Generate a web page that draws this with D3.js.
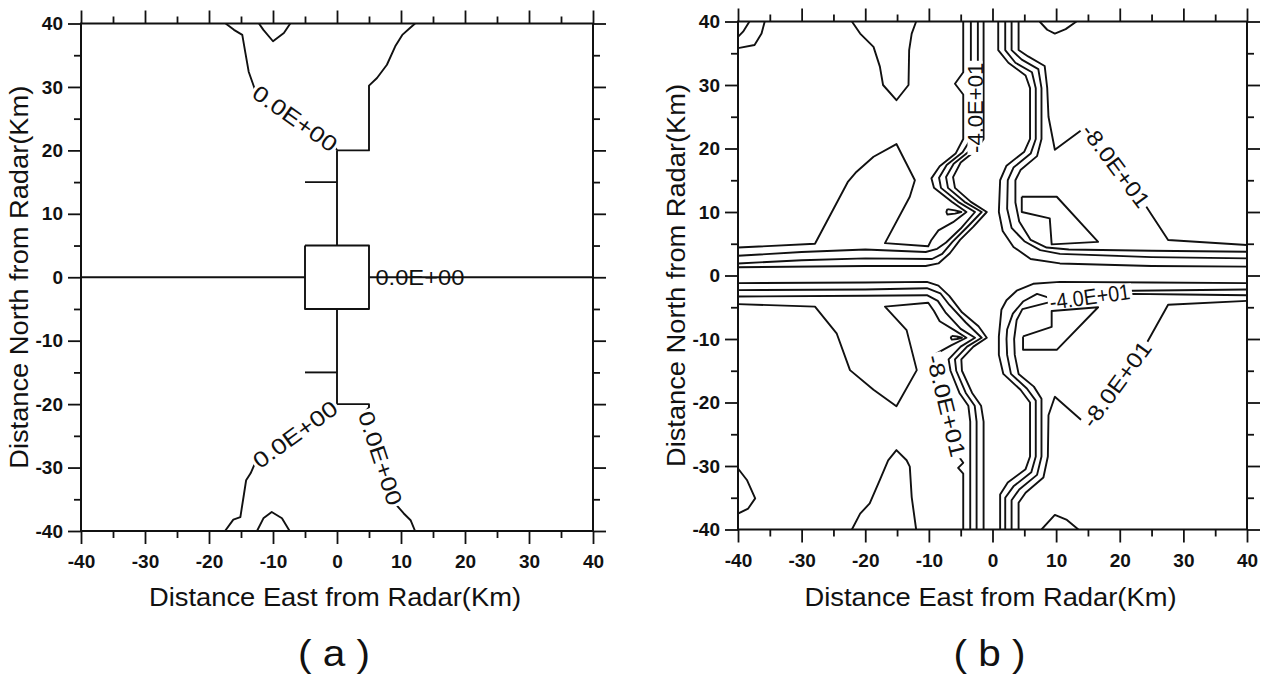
<!DOCTYPE html>
<html>
<head>
<meta charset="utf-8">
<script src="https://cdn.jsdelivr.net/npm/d3@7"></script>
<style>
  html, body { margin: 0; padding: 0; background: #fff; }
  svg { display: block; }
  text { font-family: "Liberation Sans", Arial, Helvetica, sans-serif; fill: #111; }
</style>
</head>
<body>
<svg id="chart" width="1271" height="678"></svg>
<script>
// ---- axis ticks (km) ----
const majorTicks = [-40, -30, -20, -10, 0, 10, 20, 30, 40];
const minorTicks = [-35, -25, -15, -5, 5, 15, 25, 35];

// ---- panel (a): contour polylines, [east km, north km] ----
const aUpperLeft   = [[-17.4,40],[-16.1,39],[-14.8,38.2],[-14.3,35.3],[-13.8,32.4],[-13,30.1],[-12.8,29.5],[-0.3,20.6],[0,20]];
const aUpperRight  = [[12.2,40],[11.4,39.3],[10.2,38.2],[9.1,36.4],[7.8,33.5],[6.25,31.4],[5,30.2],[5,20],[0,20]];
const aStemTop     = [[0,20],[0,5]];
const aStubTop     = [[-5,15],[0,15]];
const aBox         = [[-5,5],[5,5],[5,-5],[-5,-5],[-5,5]];
const aWest        = [[-40,0],[-5,0]];
const aEast        = [[5,0],[40,0]];
const aStemBottom  = [[0,-5],[0,-20]];
const aStubBottom  = [[-5,-15],[0,-15]];
const aLowerLeft   = [[0,-20],[-0.3,-20.2],[-12.8,-29.3],[-13.5,-30.9],[-14.2,-32],[-14.6,-34.6],[-15.1,-37.8],[-16.2,-38.2],[-17.5,-40]];
const aLowerRight  = [[0,-20],[5,-20],[5,-20.5],[4.4,-21.2],[9.2,-35.8],[10.4,-37.2],[11.5,-38.3],[12.2,-40]];
const aTopBump     = [[-12.2,40],[-11.5,39],[-10,37.2],[-8.3,38.5],[-7.3,40]];
const aBottomBump  = [[-12.5,-40],[-11.5,-38],[-10.2,-37],[-8.6,-38],[-7.4,-40]];

const aLabels = [
  { text: "0.0E+00", from: [-12.8, 29.5], to: [-0.3, 20.6], mask: true },
  { text: "0.0E+00", from: [6.0, 0], to: [19.9, 0], mask: false },
  { text: "0.0E+00", from: [-12.8, -29.3], to: [-0.3, -20.2], mask: true },
  { text: "0.0E+00", from: [4.4, -21.2], to: [9.2, -35.8], mask: true }
];

// ---- panel (b): contour polylines, [east km, north km] ----
// north-east quadrant
const bNE1 = [[0.9,40],[0.9,35.5],[2.5,33.5],[5.2,31.5],[5.9,29.5],[5.9,21.5],[5,19.5],[2.2,17.3],[1.2,15],[1.0,10],[1.6,7],[3.3,4.5],[6,2.6],[10.6,1.9],[25,1.5],[40,1.4]];
const bNE2 = [[2.0,40],[2.0,35.5],[3.6,33.5],[6.2,32],[6.8,29.5],[6.8,21.5],[6,19.2],[3.3,17],[2.4,15],[2.3,10.5],[3,7.5],[5,5.4],[7.5,4],[10.6,3.4],[25,2.9],[40,2.7]];
const bNE3 = [[3.0,40],[3.0,35.5],[4.6,34],[7.2,32.5],[7.7,29.5],[7.7,21.5],[7,18.8],[4.4,16.6],[3.6,15],[3.6,11.5],[4.2,8.5],[6,5.6],[8.5,4.4],[12,4.1],[25,3.9],[40,3.75]];
const bNE4 = [[4.1,40],[4.1,35.5],[5.6,34.5],[8.2,33],[8.6,29.5],[8.8,25],[9.8,19.8],[14.8,23.5],[24.0,11.1],[27.6,5.6],[40,4.8]];
const bNEPatch = [[4.6,12.4],[10.1,12.4],[16.6,5.3],[9.3,4.9],[9.0,9.0],[4.6,10.0],[4.6,12.4]];
const bNETop = [[7.4,40],[8.6,38.7],[9.8,38.1],[11.5,38.8],[13.2,40]];

// north-west quadrant
const bNW1 = [[-1.4,40],[-1.4,21.5],[-2.5,19.8],[-5,17.8],[-6.2,15.5],[-5.9,13.8],[-3.4,11.6],[-0.9,10],[-3,7.7],[-5.1,5.6],[-6.7,3.5],[-8.5,1.9],[-10.5,1.5],[-20,1.5],[-40,1.3]];
const bNW2 = [[-2.3,40],[-2.3,21.5],[-3.6,19.6],[-6.1,17.6],[-7.3,15.5],[-7.0,13.8],[-4.4,11.6],[-1.7,10],[-4,7.6],[-6.3,5.3],[-7.9,3.4],[-9.5,2.6],[-20,2.7],[-30,2.4],[-40,1.9]];
const bNW3 = [[-3.4,40],[-3.4,21.5],[-4.7,19.4],[-7.2,17.4],[-8.4,15.4],[-8.1,13.8],[-5.4,11.6],[-2.75,10],[-5,7.4],[-7.3,5.2],[-8.7,4.2],[-10.5,3.7],[-20,4.1],[-30,3.7],[-40,3.1]];
const bNW4 = [[-4.6,40],[-4.6,32],[-5.9,30.2],[-4.6,28.5],[-4.6,21.5],[-5.8,19.2],[-8.3,17.2],[-9.6,15.3],[-9.2,13.8],[-6.4,11.6],[-4.1,10],[-6.2,8.4],[-8.5,7.1],[-9.6,5.6],[-10.1,4.6],[-16.9,5.1],[-13,12.4],[-12.2,15],[-15.1,20.7],[-18.7,18.7],[-21.4,16.3],[-22.7,14.8],[-27.9,5.0],[-40,4.4]];
const bNWSliver = [[-7.1,10.45],[-5.9,10.25],[-4.9,10.0],[-5.9,9.75],[-7.1,9.6],[-7.25,10.0],[-7.1,10.45]];
const bNWTop = [[-22.1,40],[-20.8,38.1],[-18.7,36],[-17.7,32.9],[-17.2,30],[-15.1,27.6],[-13.2,30],[-13.1,35.5],[-12.7,38.1],[-12.0,40]];
const bNWCorner1 = [[-40,37.6],[-39.2,38.4],[-38.2,40]];
const bNWCorner2 = [[-40,35.8],[-37.4,36.3],[-36.3,38.1],[-35.8,40]];

// south-west quadrant
const bSW1 = [[-40,-1.2],[-20,-1.1],[-10.3,-1.0],[-8.5,-1.6],[-6.8,-3.2],[-4.8,-5.8],[-2.2,-8],[-0.9,-9.8],[-3.0,-11.2],[-4.9,-13.2],[-4.8,-15],[-3.2,-18.5],[-1.8,-20.5],[-1.4,-23],[-1.4,-40]];
const bSW2 = [[-40,-2.3],[-20,-2.2],[-10.3,-2.0],[-8.2,-2.8],[-6.8,-4.6],[-4.2,-7.4],[-1.7,-9.8],[-4,-11.2],[-5.9,-13.2],[-5.7,-15],[-4.2,-18.5],[-2.8,-20.5],[-2.5,-23],[-2.5,-40]];
const bSW3 = [[-40,-3.3],[-20,-3.2],[-10.3,-3.1],[-8.6,-4],[-7.4,-5.8],[-5,-8.4],[-2.75,-9.8],[-5,-11.2],[-6.9,-13.2],[-6.6,-15],[-5.2,-18.5],[-3.8,-20.5],[-3.5,-23],[-3.5,-40]];
const bSW4 = [[-40,-4.5],[-27.9,-4.9],[-24.5,-9.1],[-22.4,-14.9],[-18.7,-18],[-15.1,-20.6],[-11.9,-14.9],[-13.5,-8.6],[-16.9,-4.9],[-10.1,-4.3],[-9.2,-5.6],[-8.3,-7.2],[-6,-8.6],[-4.1,-9.8],[-6.5,-11],[-9.2,-12.5],[-5.3,-28.5],[-4.6,-29.5],[-5.4,-30.3],[-4.6,-31.2],[-4.6,-40]];
const bSWSliver = [[-6.4,-9.5],[-5.6,-9.6],[-4.8,-9.8],[-5.6,-10.0],[-6.4,-10.1],[-6.55,-9.8],[-6.4,-9.5]];
const bSWBottom = [[-22.1,-40],[-20.8,-37.5],[-19.3,-35.9],[-17.7,-32.2],[-16.4,-29.1],[-15.1,-27.5],[-13.5,-29.1],[-13,-30.1],[-12.7,-34.9],[-12.0,-40]];
const bSWCorner = [[-40,-30.4],[-38.6,-32.2],[-37.3,-35.1],[-38.4,-36.7],[-40,-37.5]];

// south-east quadrant
const bSE1 = [[40,-1.2],[25,-1.1],[10.6,-1.0],[6.4,-1.3],[3.8,-2.4],[2.2,-3.9],[1.4,-5.4],[1.0,-9.6],[1.0,-12.5],[1.7,-15.5],[4.4,-18],[5.9,-20],[5.9,-28.5],[5.2,-30.5],[2.4,-32.6],[1.2,-34.5],[1.2,-40]];
const bSE2 = [[40,-2.2],[22,-2.4],[12,-3.4],[9.2,-3.6],[7,-2.9],[4.8,-4.1],[3.2,-6],[2.3,-8.5],[2.2,-10],[2.3,-12.5],[2.9,-15.5],[5.4,-17.8],[6.8,-19.7],[6.8,-28.5],[6.1,-31],[3.3,-33.2],[2.0,-35],[2.0,-40]];
const bSE3 = [[40,-3.1],[30,-3.0],[22,-2.9],[9,-4.2],[4.7,-5.3],[3.8,-7],[3.4,-10],[3.5,-12.5],[4.1,-15.5],[6.5,-17.5],[7.7,-19.4],[7.7,-28.5],[7.0,-31.4],[4.2,-33.7],[3.0,-35.4],[3.0,-40]];
const bSE4 = [[40,-4.0],[27.6,-4.6],[24.2,-10.7],[14.8,-23.5],[9.8,-19.1],[8.8,-22],[8.7,-28.5],[8.0,-31.8],[5.2,-34.2],[4.1,-35.8],[4.1,-40]];
const bSEPatch = [[4.8,-9.6],[9.3,-8.1],[9.3,-5.6],[16.6,-5.0],[10.1,-11.7],[4.8,-11.7],[4.8,-9.6]];
const bSEBottom = [[7.7,-40],[9.8,-37.7],[11.7,-38.5],[13.5,-40]];

const bLabels = [
  { text: "-8.0E+01", from: [14.8, 23.5], to: [24.0, 11.1], mask: true },
  { text: "-4.0E+01", from: [-2.75, 19.3], to: [-2.75, 33.5], mask: true },
  { text: "-4.0E+01", from: [9.0, -4.2], to: [21.6, -2.45], mask: true },
  { text: "-8.0E+01", from: [14.8, -23.5], to: [24.2, -10.7], mask: true },
  { text: "-8.0E+01", from: [-9.2, -12.5], to: [-5.3, -28.5], mask: true }
];

const aLines = [aUpperLeft, aUpperRight, aStemTop, aStubTop, aBox, aWest, aEast,
                aStemBottom, aStubBottom, aLowerLeft, aLowerRight, aTopBump, aBottomBump];
const bLines = [bNE1, bNE2, bNE3, bNE4, bNEPatch, bNETop,
                bNW1, bNW2, bNW3, bNW4, bNWSliver, bNWTop, bNWCorner1, bNWCorner2,
                bSW1, bSW2, bSW3, bSW4, bSWSliver, bSWBottom, bSWCorner,
                bSE1, bSE2, bSE3, bSE4, bSEPatch, bSEBottom];

const svg = d3.select("#chart");
const INK = "#111";

function drawPanel(opt) {
  const x = d3.scaleLinear().domain([-40, 40]).range([opt.left, opt.right]);
  const y = d3.scaleLinear().domain([-40, 40]).range([opt.bottom, opt.top]);
  const g = svg.append("g");

  g.append("clipPath").attr("id", opt.id + "-clip")
    .append("rect")
    .attr("x", opt.left).attr("y", opt.top)
    .attr("width", opt.right - opt.left).attr("height", opt.bottom - opt.top);

  const plot = g.append("g").attr("clip-path", `url(#${opt.id}-clip)`);
  const line = d3.line().x(d => x(d[0])).y(d => y(d[1]));

  plot.append("g").selectAll("path").data(opt.lines).join("path")
    .attr("d", line)
    .attr("fill", "none")
    .attr("stroke", INK)
    .attr("stroke-width", 1.9)
    .attr("stroke-linejoin", "round");

  // contour labels placed along their segment, masking the line underneath
  const fontSize = 22;
  opt.labels.forEach(l => {
    const x1 = x(l.from[0]), y1 = y(l.from[1]);
    const x2 = x(l.to[0]), y2 = y(l.to[1]);
    const len = Math.hypot(x2 - x1, y2 - y1);
    const ang = Math.atan2(y2 - y1, x2 - x1) * 180 / Math.PI;
    const lg = plot.append("g")
      .attr("transform", `translate(${(x1 + x2) / 2},${(y1 + y2) / 2}) rotate(${ang})`);
    if (l.mask) {
      lg.append("rect")
        .attr("x", -len / 2 - 2).attr("y", -7.5)
        .attr("width", len + 4).attr("height", 15)
        .attr("fill", "#fff");
    }
    lg.append("text")
      .attr("text-anchor", "middle")
      .attr("dy", "0.36em")
      .attr("font-size", fontSize)
      .attr("textLength", len)
      .attr("lengthAdjust", "spacingAndGlyphs")
      .text(l.text);
  });

  // frame
  g.append("rect")
    .attr("x", opt.left).attr("y", opt.top)
    .attr("width", opt.right - opt.left).attr("height", opt.bottom - opt.top)
    .attr("fill", "none").attr("stroke", INK).attr("stroke-width", 2);

  const fmt = d => String(d);
  const blank = () => "";
  const styleAxis = sel => {
    sel.select(".domain").remove();
    sel.selectAll("line").attr("stroke", INK).attr("stroke-width", 1.8);
    sel.selectAll("text")
      .attr("font-family", '"Liberation Sans", Arial, sans-serif')
      .attr("font-size", 19).attr("font-weight", "bold").attr("fill", INK);
  };

  const axes = [
    [d3.axisBottom, `translate(0,${opt.bottom})`, x, 11, fmt],
    [d3.axisTop, `translate(0,${opt.top})`, x, 3, blank],
    [d3.axisLeft, `translate(${opt.left},0)`, y, 5, fmt],
    [d3.axisRight, `translate(${opt.right},0)`, y, 3, blank]
  ];
  axes.forEach(([maker, tr, sc, pad, f]) => {
    g.append("g").attr("transform", tr)
      .call(maker(sc).tickValues(majorTicks).tickSize(13).tickPadding(pad).tickFormat(f))
      .call(styleAxis);
    g.append("g").attr("transform", tr)
      .call(maker(sc).tickValues(minorTicks).tickSize(7).tickFormat(blank))
      .call(styleAxis);
  });

  // axis titles
  g.append("text")
    .attr("x", (opt.left + opt.right) / 2 - 2).attr("y", 606)
    .attr("text-anchor", "middle").attr("font-size", 25)
    .attr("textLength", 372).attr("lengthAdjust", "spacingAndGlyphs")
    .text("Distance East from Radar(Km)");

  g.append("text")
    .attr("transform", `translate(${opt.left - 53},${(opt.top + opt.bottom) / 2}) rotate(-90)`)
    .attr("text-anchor", "middle").attr("font-size", 25)
    .attr("textLength", 383).attr("lengthAdjust", "spacingAndGlyphs")
    .text("Distance North from Radar(Km)");

  g.append("text")
    .attr("x", (opt.left + opt.right) / 2 - 3).attr("y", 666)
    .attr("text-anchor", "middle").attr("font-size", 36)
    .attr("textLength", 72).attr("lengthAdjust", "spacingAndGlyphs")
    .text(opt.caption);
}

drawPanel({ id: "pa", left: 81, right: 593, top: 23.5, bottom: 531,
            lines: aLines, labels: aLabels, caption: "( a )" });
drawPanel({ id: "pb", left: 738, right: 1247, top: 21.5, bottom: 529.5,
            lines: bLines, labels: bLabels, caption: "( b )" });
</script>
</body>
</html>
